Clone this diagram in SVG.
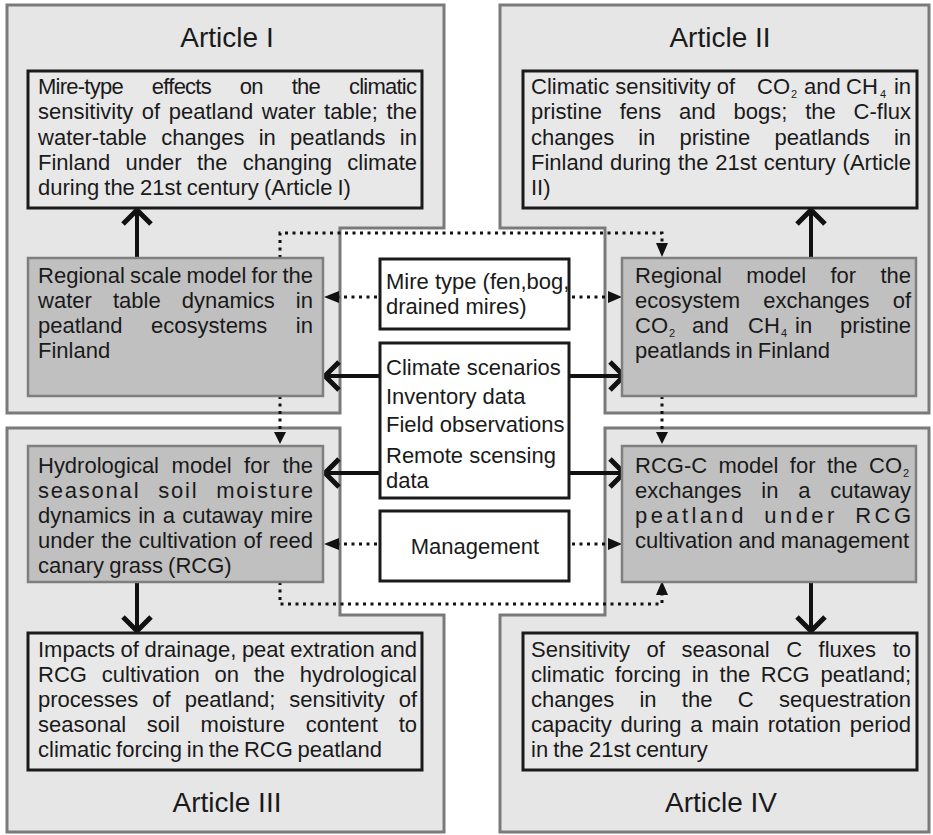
<svg xmlns="http://www.w3.org/2000/svg" width="933" height="835" viewBox="0 0 933 835">
<style>
text{font-family:"Liberation Sans",Arial,sans-serif;fill:#1a1a1a;font-size:22px}
.title{font-size:28px;text-anchor:middle}
.sub{font-size:11px}
.panel{fill:#e6e6e6;stroke:#7a7a7a;stroke-width:3}
.res{fill:#e8e8e8;stroke:#1a1a1a;stroke-width:3}
.model{fill:#c0c0c0;stroke:#7f7f7f;stroke-width:2.5}
.input{fill:#fff;stroke:#1a1a1a;stroke-width:3}
.dot{fill:none;stroke:#111;stroke-width:3;stroke-dasharray:3 4.5}
.solid{fill:none;stroke:#111;stroke-width:4}
.chev{fill:none;stroke:#111;stroke-width:5;stroke-linejoin:miter}
.tri{fill:#111}
</style>
<rect width="933" height="835" fill="#fff"/>
<g id="panels">
<path id="panel-I" class="panel" d="M7,5 H444 V228 H340 V413 H7 Z"/>
<path id="panel-II" class="panel" d="M500,5 H929 V413 H605 V228 H500 Z"/>
<path id="panel-III" class="panel" d="M7,428 H340 V615 H444 V832 H7 Z"/>
<path id="panel-IV" class="panel" d="M605,428 H929 V832 H500 V615 H605 Z"/>
<text class="title" x="227" y="47">Article I</text>
<text class="title" x="720" y="47">Article II</text>
<text class="title" x="227" y="812">Article III</text>
<text class="title" x="721" y="812">Article IV</text>
</g>
<g id="connectors">
<path class="dot" d="M280,258 V233 H662 V243"/>
<polygon class="tri" points="656,243 668,243 662,257"/>
<path class="dot" d="M280,396 V432"/>
<polygon class="tri" points="274,432 286,432 280,444"/>
<path class="dot" d="M662,396 V432"/>
<polygon class="tri" points="656,432 668,432 662,444"/>
<path class="dot" d="M280,582 V604 H662 V595"/>
<polygon class="tri" points="656,595 668,595 662,581"/>
<path class="dot" d="M377,297 H339"/>
<polygon class="tri" points="339,291 339,303 324,297"/>
<path class="dot" d="M572,297 H608"/>
<polygon class="tri" points="608,291 608,303 622,297"/>
<path class="dot" d="M377,544 H339"/>
<polygon class="tri" points="339,538 339,550 324,544"/>
<path class="dot" d="M572,544 H608"/>
<polygon class="tri" points="608,538 608,550 622,544"/>
<path class="solid" d="M380,376 H327"/>
<polyline class="chev" points="339,362 325,376 339,390"/>
<path class="solid" d="M569,376 H622"/>
<polyline class="chev" points="610,362 624,376 610,390"/>
<path class="solid" d="M380,473 H327"/>
<polyline class="chev" points="339,459 325,473 339,487"/>
<path class="solid" d="M569,473 H622"/>
<polyline class="chev" points="610,459 624,473 610,487"/>
<path class="solid" d="M137,258 V212"/>
<polyline class="chev" points="123,224 137,210 151,224"/>
<path class="solid" d="M811,258 V212"/>
<polyline class="chev" points="797,224 811,210 825,224"/>
<path class="solid" d="M137,582 V629"/>
<polyline class="chev" points="123,617 137,631 151,617"/>
<path class="solid" d="M811,582 V629"/>
<polyline class="chev" points="797,617 811,631 825,617"/>
</g>
<g id="result-I">
<rect class="res" x="28" y="71" width="394" height="137"/>
<text x="38" y="94" textLength="379" lengthAdjust="spacing" word-spacing="23.5">Mire-type effects on the climatic</text>
<text x="38" y="119" textLength="379" lengthAdjust="spacing" word-spacing="2.4">sensitivity of peatland water table; the</text>
<text x="38" y="145" textLength="379" lengthAdjust="spacing" word-spacing="8.2">water-table changes in peatlands in</text>
<text x="38" y="170" textLength="379" lengthAdjust="spacing" word-spacing="9.2">Finland under the changing climate</text>
<text x="38" y="195" word-spacing="-1">during the 21st century (Article I)</text>
</g>
<g id="model-I">
<rect class="model" x="28" y="258" width="295" height="138"/>
<text x="38" y="283" textLength="275" lengthAdjust="spacing" word-spacing="-1">Regional scale model for the</text>
<text x="38" y="308" textLength="275" lengthAdjust="spacing" word-spacing="15">water table dynamics in</text>
<text x="38" y="333" textLength="275" lengthAdjust="spacing" word-spacing="22.6">peatland ecosystems in</text>
<text x="38" y="358">Finland</text>
</g>
<g id="result-II">
<rect class="res" x="523" y="71" width="394" height="137"/>
<text x="531" y="94">Climatic sensitivity of</text>
<text x="757" y="94">CO</text><text class="sub" x="791" y="98">2</text>
<text x="804" y="94">and</text>
<text x="846" y="94">CH</text><text class="sub" x="880" y="98">4</text>
<text x="911" y="94" text-anchor="end">in</text>
<text x="531" y="119" textLength="380" lengthAdjust="spacing" word-spacing="11.7">pristine fens and bogs; the C-flux</text>
<text x="531" y="145" textLength="380" lengthAdjust="spacing" word-spacing="18">changes in pristine peatlands in</text>
<text x="531" y="170" textLength="380" lengthAdjust="spacing" word-spacing="0.7">Finland during the 21st century (Article</text>
<text x="531" y="195">II)</text>
</g>
<g id="model-II">
<rect class="model" x="622" y="258" width="294" height="138"/>
<text x="635" y="283" textLength="276" lengthAdjust="spacing" word-spacing="18.2">Regional model for the</text>
<text x="635" y="308" textLength="276" lengthAdjust="spacing" word-spacing="17">ecosystem exchanges of</text>
<text x="635" y="333">CO</text><text class="sub" x="669" y="337">2</text>
<text x="692" y="333">and</text>
<text x="748" y="333">CH</text><text class="sub" x="781" y="337">4</text>
<text x="795" y="333">in</text>
<text x="911" y="333" text-anchor="end">pristine</text>
<text x="635" y="358" word-spacing="-1">peatlands in Finland</text>
</g>
<g id="input-mire">
<rect class="input" x="380" y="259" width="189" height="70"/>
<text x="386" y="289">Mire type (fen,bog,</text>
<text x="386" y="314">drained mires)</text>
</g>
<g id="input-data">
<rect class="input" x="380" y="343" width="189" height="155"/>
<text x="386" y="375">Climate scenarios</text>
<text x="386" y="404">Inventory data</text>
<text x="386" y="432">Field observations</text>
<text x="386" y="463">Remote scensing</text>
<text x="386" y="488">data</text>
</g>
<g id="input-management">
<rect class="input" x="380" y="511" width="189" height="70"/>
<text x="475" y="554" text-anchor="middle">Management</text>
</g>
<g id="model-III">
<rect class="model" x="28" y="446" width="295" height="136"/>
<text x="38" y="473" textLength="275" lengthAdjust="spacing" word-spacing="6.5">Hydrological model for the</text>
<text x="38" y="498" textLength="275" lengthAdjust="spacing" word-spacing="10">seasonal soil moisture</text>
<text x="38" y="523" textLength="275" lengthAdjust="spacing" word-spacing="1.2">dynamics in a cutaway mire</text>
<text x="38" y="548" textLength="275" lengthAdjust="spacing" word-spacing="0.9">under the cultivation of reed</text>
<text x="38" y="573" word-spacing="-1">canary grass (RCG)</text>
</g>
<g id="result-III">
<rect class="res" x="28" y="633" width="394" height="137"/>
<text x="38" y="657" textLength="379" lengthAdjust="spacing" word-spacing="-0.5">Impacts of drainage, peat extration and</text>
<text x="38" y="682" textLength="379" lengthAdjust="spacing" word-spacing="8.9">RCG cultivation on the hydrological</text>
<text x="38" y="707" textLength="379" lengthAdjust="spacing" word-spacing="7.9">processes of peatland; sensitivity of</text>
<text x="38" y="732" textLength="379" lengthAdjust="spacing" word-spacing="14.7">seasonal soil moisture content to</text>
<text x="38" y="757" word-spacing="-1.4">climatic forcing in the RCG peatland</text>
</g>
<g id="model-IV">
<rect class="model" x="622" y="446" width="294" height="136"/>
<text x="635" y="473" textLength="267" lengthAdjust="spacing" word-spacing="5.3">RCG-C model for the CO</text><text class="sub" x="903" y="477">2</text>
<text x="635" y="498" textLength="276" lengthAdjust="spacing" word-spacing="13.7">exchanges in a cutaway</text>
<text x="635" y="523" textLength="276" lengthAdjust="spacing" word-spacing="8">peatland under RCG</text>
<text x="635" y="548" word-spacing="-0.5">cultivation and management</text>
</g>
<g id="result-IV">
<rect class="res" x="523" y="633" width="394" height="137"/>
<text x="531" y="657" textLength="380" lengthAdjust="spacing" word-spacing="10.5">Sensitivity of seasonal C fluxes to</text>
<text x="531" y="682" textLength="380" lengthAdjust="spacing" word-spacing="4.6">climatic forcing in the RCG peatland;</text>
<text x="531" y="707" textLength="380" lengthAdjust="spacing" word-spacing="19.2">changes in the C sequestration</text>
<text x="531" y="732" textLength="380" lengthAdjust="spacing" word-spacing="2.6">capacity during a main rotation period</text>
<text x="531" y="757" word-spacing="-1">in the 21st century</text>
</g>
</svg>
